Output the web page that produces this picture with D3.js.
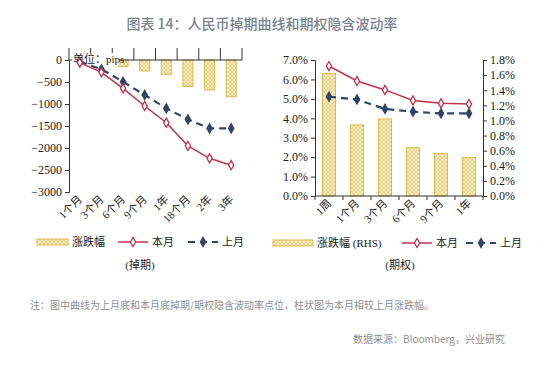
<!DOCTYPE html>
<html lang="zh">
<head>
  <meta charset="utf-8">
  <script src="https://cdn.jsdelivr.net/npm/d3@7"></script>
  <style>
    body { margin: 0; background: #fff; }
  </style>
</head>
<body>
<script>
// 掉期 (swap points, pips)
var swapTenors = ["1个月", "3个月", "6个月", "9个月", "1年", "18个月", "2年", "3年"];
var swapNow = [-60, -280, -645, -1045, -1425, -1950, -2235, -2390];
var swapPrev = [-40, -210, -495, -795, -1100, -1350, -1555, -1555];
var swapChg = [-20, -70, -150, -250, -325, -600, -680, -835];
var swapTicks = [0, -500, -1000, -1500, -2000, -2500, -3000];

// 期权 (implied vol)
var volTenors = ["1周", "1个月", "3个月", "6个月", "9个月", "1年"];
var volNow = [6.69, 5.92, 5.46, 4.92, 4.77, 4.73];
var volPrev = [5.11, 4.97, 4.48, 4.34, 4.25, 4.25];
var volChg = [1.62, 0.94, 1.02, 0.64, 0.56, 0.51];
var volTicksL = [0, 1, 2, 3, 4, 5, 6, 7];
var volTicksR = [0, 0.2, 0.4, 0.6, 0.8, 1.0, 1.2, 1.4, 1.6, 1.8];

var width = 550, height = 365;
var red = "#c0334d", navy = "#2f4468", barStroke = "#e2b64e";
var serif = '"Liberation Serif", "Noto Sans CJK SC", serif';
var cjk = '"Noto Sans CJK SC", sans-serif';

var svg = d3.select("body").append("svg")
  .attr("width", width).attr("height", height);

// crosshatch fill for the bars
var pat = svg.append("defs").append("pattern")
  .attr("id", "hatch").attr("patternUnits", "userSpaceOnUse")
  .attr("width", 4).attr("height", 4);
pat.append("rect").attr("width", 4).attr("height", 4).attr("fill", "#fcf1c8");
pat.append("path").attr("d", "M0,0L4,4M4,0L0,4")
  .attr("stroke", "#e8c870").attr("stroke-width", 0.8);

// title
svg.append("text").attr("x", 262).attr("y", 29)
  .attr("text-anchor", "middle").attr("font-family", cjk)
  .attr("font-size", 14).attr("font-weight", 500).attr("fill", "#7b8490")
  .text("图表 14：人民币掉期曲线和期权隐含波动率");

function diamond(g, data, x, y, color, fill) {
  g.selectAll(null).data(data).enter().append("path")
    .attr("d", d3.symbol().type(d3.symbolDiamond).size(24))
    .attr("transform", function(d, i) { return "translate(" + x(i) + "," + y(d) + ")"; })
    .attr("fill", fill).attr("stroke", color).attr("stroke-width", 1.3);
}

function bandTicks(g, xs, yPos, dir) {
  var b = xs.domain().map(function(d) { return xs(d); });
  b.push(xs.range()[1]);
  g.selectAll(null).data(b).enter().append("line")
    .attr("x1", function(d) { return d; }).attr("x2", function(d) { return d; })
    .attr("y1", yPos).attr("y2", yPos + dir * 4)
    .attr("stroke", "#333");
}

function xLabels(g, xs, yPos) {
  g.selectAll(null).data(xs.domain()).enter().append("text")
    .attr("transform", function(d) {
      return "translate(" + (xs(d) + xs.bandwidth() / 2 + 3) + "," + yPos + ") rotate(-45)";
    })
    .attr("text-anchor", "end").attr("font-family", serif)
    .attr("font-size", 11).attr("fill", "#222")
    .text(function(d) { return d; });
}

function styleAxis(a) {
  a.attr("font-family", serif);
  a.select(".domain").attr("stroke", "#333");
  a.selectAll(".tick line").attr("stroke", "#333");
  a.selectAll(".tick text").attr("font-family", serif).attr("font-size", 12).attr("fill", "#222");
}

// ---------- left: 掉期 ----------
var L = svg.append("g");
var x1 = d3.scaleBand().domain(swapTenors).range([69, 242]);
var y1 = d3.scaleLinear().domain([0, -3000]).range([60, 192]);
var cx1 = function(i) { return x1(swapTenors[i]) + x1.bandwidth() / 2; };

L.selectAll(".bar").data(swapChg).enter().append("rect")
  .attr("x", function(d, i) { return cx1(i) - 5; })
  .attr("width", 10)
  .attr("y", y1(0))
  .attr("height", function(d) { return y1(d) - y1(0); })
  .attr("fill", "url(#hatch)").attr("stroke", barStroke).attr("stroke-width", 1);

var ax1 = L.append("g").attr("transform", "translate(69,0)")
  .call(d3.axisLeft(y1).tickValues(swapTicks).tickSize(4).tickFormat(d3.format("d")));
styleAxis(ax1);
L.append("line").attr("x1", 69).attr("x2", 242).attr("y1", 60).attr("y2", 60).attr("stroke", "#333");
bandTicks(L, x1, 60, -3);

// unit label with white box
L.append("rect").attr("x", 72).attr("y", 53).attr("width", 47).attr("height", 12).attr("fill", "#fff");
L.append("text").attr("x", 73).attr("y", 63).attr("font-family", serif)
  .attr("font-size", 11).attr("fill", "#222").text("单位：pips");

var line1 = d3.line().x(function(d, i) { return cx1(i); }).y(function(d) { return y1(d); });
L.append("path").datum(swapPrev).attr("d", line1).attr("fill", "none")
  .attr("stroke", navy).attr("stroke-width", 2.2).attr("stroke-dasharray", "7,5");
L.append("path").datum(swapNow).attr("d", line1).attr("fill", "none")
  .attr("stroke", red).attr("stroke-width", 1.5);
diamond(L, swapPrev, cx1, y1, navy, navy);
diamond(L, swapNow, cx1, y1, red, "#fff");

xLabels(L, x1, 200);

// ---------- right: 期权 ----------
var R = svg.append("g");
var x2 = d3.scaleBand().domain(volTenors).range([315, 483]);
var y2 = d3.scaleLinear().domain([0, 7]).range([196, 60]);
var y2r = d3.scaleLinear().domain([0, 1.8]).range([196, 60]);
var cx2 = function(i) { return x2(volTenors[i]) + x2.bandwidth() / 2; };

R.selectAll(".bar").data(volChg).enter().append("rect")
  .attr("x", function(d, i) { return cx2(i) - 6.5; })
  .attr("width", 13)
  .attr("y", function(d) { return y2r(d); })
  .attr("height", function(d) { return y2r(0) - y2r(d); })
  .attr("fill", "url(#hatch)").attr("stroke", barStroke).attr("stroke-width", 1);

var ax2 = R.append("g").attr("transform", "translate(315,0)")
  .call(d3.axisLeft(y2).tickValues(volTicksL).tickSize(4)
    .tickFormat(function(d) { return d.toFixed(1) + "%"; }));
styleAxis(ax2);
var ax3 = R.append("g").attr("transform", "translate(483,0)")
  .call(d3.axisRight(y2r).tickValues(volTicksR).tickSize(4)
    .tickFormat(function(d) { return d.toFixed(1) + "%"; }));
styleAxis(ax3);
R.append("line").attr("x1", 315).attr("x2", 483).attr("y1", 196).attr("y2", 196).attr("stroke", "#333");
bandTicks(R, x2, 196, 1);

var line2 = d3.line().x(function(d, i) { return cx2(i); }).y(function(d) { return y2(d); });
R.append("path").datum(volPrev).attr("d", line2).attr("fill", "none")
  .attr("stroke", navy).attr("stroke-width", 2.2).attr("stroke-dasharray", "7,5");
R.append("path").datum(volNow).attr("d", line2).attr("fill", "none")
  .attr("stroke", red).attr("stroke-width", 1.5);
diamond(R, volPrev, cx2, y2, navy, navy);
diamond(R, volNow, cx2, y2, red, "#fff");

xLabels(R, x2, 204);

// ---------- legends ----------
function legend(g, x0, y0, barLabel, items) {
  g.append("rect").attr("x", x0).attr("y", y0 - 3).attr("width", items[0]).attr("height", 6)
    .attr("fill", "url(#hatch)").attr("stroke", barStroke);
  g.append("text").attr("x", x0 + items[0] + 4).attr("y", y0 + 4)
    .attr("font-family", serif).attr("font-size", 11).attr("fill", "#222").text(barLabel);
  var xa = items[1];
  g.append("line").attr("x1", xa).attr("x2", xa + 30).attr("y1", y0).attr("y2", y0)
    .attr("stroke", red).attr("stroke-width", 1.5);
  g.append("path").attr("d", d3.symbol().type(d3.symbolDiamond).size(24))
    .attr("transform", "translate(" + (xa + 15) + "," + y0 + ")")
    .attr("fill", "#fff").attr("stroke", red).attr("stroke-width", 1.3);
  g.append("text").attr("x", xa + 34).attr("y", y0 + 4)
    .attr("font-family", serif).attr("font-size", 11).attr("fill", "#222").text("本月");
  var xb = items[2];
  g.append("line").attr("x1", xb).attr("x2", xb + 30).attr("y1", y0).attr("y2", y0)
    .attr("stroke", navy).attr("stroke-width", 2.2).attr("stroke-dasharray", "7,5");
  g.append("path").attr("d", d3.symbol().type(d3.symbolDiamond).size(24))
    .attr("transform", "translate(" + (xb + 15) + "," + y0 + ")")
    .attr("fill", navy).attr("stroke", navy).attr("stroke-width", 1.3);
  g.append("text").attr("x", xb + 34).attr("y", y0 + 4)
    .attr("font-family", serif).attr("font-size", 11).attr("fill", "#222").text("上月");
}
legend(svg, 37, 242, "涨跌幅", [31, 118, 188]);
legend(svg, 273, 243, "涨跌幅 (RHS)", [40, 402, 466]);

svg.append("text").attr("x", 140).attr("y", 269).attr("text-anchor", "middle")
  .attr("font-family", serif).attr("font-size", 11).attr("fill", "#222").text("(掉期)");
svg.append("text").attr("x", 400).attr("y", 269).attr("text-anchor", "middle")
  .attr("font-family", serif).attr("font-size", 11).attr("fill", "#222").text("(期权)");

// note and source
svg.append("text").attr("x", 30).attr("y", 309).attr("font-family", cjk)
  .attr("font-size", 10).attr("fill", "#8a8f96")
  .text("注：图中曲线为上月底和本月底掉期/期权隐含波动率点位，柱状图为本月相较上月涨跌幅。");
svg.append("text").attr("x", 505).attr("y", 343).attr("text-anchor", "end").attr("font-family", cjk)
  .attr("font-size", 10).attr("fill", "#8a8f96")
  .text("数据来源：Bloomberg，兴业研究");
</script>
</body>
</html>
